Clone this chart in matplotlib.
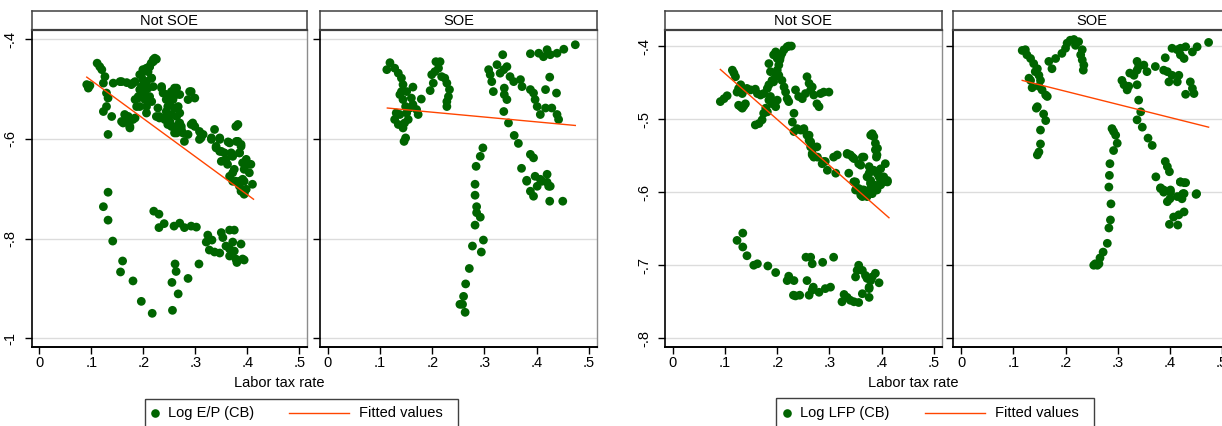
import matplotlib
matplotlib.use("Agg")
import matplotlib.pyplot as plt
import numpy as np
from matplotlib.patches import Rectangle

plt.rcParams['font.family'] = ['Liberation Sans', 'DejaVu Sans']

# ---------------- data ----------------
panel_titles = ["Not SOE", "SOE"]
xticks = [0, 0.1, 0.2, 0.3, 0.4, 0.5]
xtick_labels = ["0", ".1", ".2", ".3", ".4", ".5"]
ep_yticks = [-1, -0.8, -0.6, -0.4]
ep_ytick_labels = ["-1", "-.8", "-.6", "-.4"]
lfp_yticks = [-0.8, -0.7, -0.6, -0.5, -0.4]
lfp_ytick_labels = ["-.8", "-.7", "-.6", "-.5", "-.4"]
x_title = "Labor tax rate"
ep_series_label = "Log E/P (CB)"
lfp_series_label = "Log LFP (CB)"
fit_label = "Fitted values"

ep_notsoe = [
    (0.091,-0.491),(0.094,-0.498),(0.097,-0.493),
    (0.111,-0.448),(0.116,-0.455),(0.120,-0.461),(0.126,-0.475),
    (0.123,-0.488),(0.129,-0.508),(0.132,-0.518),(0.129,-0.535),(0.123,-0.545),(0.139,-0.555),(0.132,-0.591),(0.132,-0.707),
    (0.142,-0.488),(0.155,-0.485),(0.168,-0.487),(0.180,-0.488),
    (0.158,-0.565),(0.164,-0.551),(0.171,-0.555),(0.174,-0.575),(0.180,-0.561),
    (0.184,-0.521),(0.187,-0.535),(0.190,-0.515),(0.193,-0.501),(0.196,-0.495),(0.193,-0.471),(0.199,-0.461),(0.206,-0.458),
    (0.209,-0.465),(0.212,-0.455),(0.215,-0.448),(0.219,-0.441),(0.222,-0.438),(0.225,-0.440),
    (0.199,-0.481),(0.203,-0.508),(0.206,-0.521),(0.212,-0.515),(0.215,-0.478),(0.219,-0.495),(0.206,-0.548),
    (0.228,-0.538),(0.225,-0.555),(0.231,-0.558),(0.235,-0.498),(0.238,-0.508),(0.244,-0.521),(0.247,-0.535),(0.251,-0.515),
    (0.254,-0.505),(0.257,-0.521),(0.260,-0.498),(0.263,-0.511),(0.267,-0.535),(0.270,-0.548),(0.244,-0.555),(0.247,-0.571),
    (0.251,-0.565),(0.254,-0.575),(0.260,-0.588),(0.263,-0.578),(0.270,-0.568),(0.273,-0.575),(0.276,-0.588),(0.279,-0.605),(0.286,-0.591),
    (0.292,-0.505),(0.299,-0.518),(0.286,-0.521),(0.295,-0.568),(0.299,-0.575),(0.308,-0.585),(0.311,-0.598),(0.315,-0.591),
    (0.331,-0.598),(0.337,-0.581),(0.340,-0.615),(0.347,-0.598),(0.347,-0.625),(0.350,-0.645),(0.356,-0.628),(0.359,-0.641),
    (0.362,-0.651),(0.366,-0.608),(0.372,-0.635),(0.375,-0.661),(0.378,-0.575),(0.382,-0.571),(0.382,-0.605),(0.385,-0.628),
    (0.388,-0.615),(0.391,-0.648),(0.394,-0.661),(0.398,-0.641),(0.401,-0.651),(0.404,-0.668),(0.407,-0.651),(0.410,-0.691),
    (0.385,-0.685),(0.391,-0.681),(0.398,-0.701),(0.394,-0.708),(0.366,-0.675),(0.372,-0.668),(0.378,-0.685),
    (0.372,-0.685),(0.385,-0.695),(0.394,-0.685),(0.388,-0.705),(0.394,-0.711),
    (0.219,-0.445),(0.212,-0.455),(0.203,-0.461),(0.196,-0.471),(0.216,-0.478),(0.206,-0.485),(0.209,-0.498),(0.199,-0.505),
    (0.190,-0.518),(0.203,-0.521),(0.216,-0.525),(0.193,-0.535),(0.206,-0.535),(0.177,-0.491),(0.184,-0.485),(0.158,-0.485),
    (0.235,-0.495),(0.244,-0.511),(0.254,-0.518),(0.264,-0.498),(0.270,-0.511),(0.251,-0.531),(0.260,-0.538),(0.244,-0.545),
    (0.254,-0.551),(0.264,-0.555),(0.231,-0.555),(0.241,-0.561),(0.251,-0.571),(0.267,-0.571),(0.273,-0.581),(0.264,-0.588),
    (0.289,-0.505),(0.292,-0.571),(0.311,-0.591),(0.308,-0.601),(0.331,-0.601),(0.347,-0.601),(0.363,-0.606),(0.379,-0.605),
    (0.388,-0.611),(0.340,-0.618),(0.350,-0.625),(0.369,-0.628),(0.385,-0.628),(0.171,-0.568),(0.161,-0.568),(0.168,-0.555),
    (0.184,-0.558),(0.174,-0.578),
    (0.123,-0.736),(0.132,-0.763),(0.141,-0.805),(0.160,-0.845),(0.156,-0.867),(0.180,-0.885),(0.196,-0.926),(0.217,-0.950),
    (0.220,-0.745),(0.230,-0.751),(0.230,-0.778),(0.240,-0.770),(0.259,-0.775),(0.270,-0.769),(0.279,-0.778),(0.292,-0.775),
    (0.302,-0.777),(0.261,-0.851),(0.263,-0.866),(0.255,-0.888),(0.267,-0.911),(0.256,-0.944),(0.286,-0.880),(0.307,-0.851),
    (0.324,-0.793),(0.321,-0.807),(0.332,-0.803),(0.327,-0.823),(0.337,-0.827),(0.347,-0.829),(0.350,-0.788),(0.353,-0.798),
    (0.366,-0.783),(0.375,-0.783),(0.359,-0.815),(0.366,-0.821),(0.372,-0.807),(0.366,-0.835),(0.375,-0.825),(0.378,-0.841),
    (0.380,-0.848),(0.388,-0.811),(0.391,-0.841),(0.394,-0.843),
]

ep_soe = [
    (0.119,-0.447),(0.113,-0.461),(0.128,-0.458),(0.135,-0.468),(0.141,-0.478),(0.144,-0.491),(0.141,-0.505),(0.138,-0.511),
    (0.151,-0.505),(0.163,-0.496),(0.160,-0.518),(0.144,-0.521),(0.149,-0.535),(0.157,-0.538),(0.163,-0.531),(0.170,-0.541),
    (0.173,-0.551),(0.151,-0.548),(0.138,-0.551),(0.131,-0.548),(0.128,-0.561),(0.135,-0.571),(0.144,-0.578),(0.147,-0.568),
    (0.154,-0.561),(0.149,-0.598),(0.146,-0.605),(0.179,-0.520),(0.196,-0.503),(0.202,-0.488),(0.199,-0.471),(0.205,-0.465),
    (0.207,-0.445),(0.215,-0.445),(0.212,-0.458),(0.218,-0.475),(0.224,-0.478),(0.228,-0.488),(0.233,-0.501),(0.231,-0.515),
    (0.228,-0.525),(0.228,-0.535),
    (0.308,-0.461),(0.311,-0.471),(0.314,-0.485),(0.317,-0.505),(0.324,-0.451),(0.330,-0.468),(0.337,-0.461),(0.343,-0.455),
    (0.335,-0.431),(0.338,-0.498),(0.338,-0.511),(0.343,-0.521),(0.337,-0.545),(0.346,-0.568),(0.349,-0.475),(0.356,-0.485),
    (0.369,-0.481),(0.372,-0.495),(0.388,-0.501),(0.394,-0.508),(0.397,-0.521),(0.401,-0.535),(0.407,-0.551),(0.417,-0.538),
    (0.429,-0.538),(0.417,-0.501),(0.425,-0.476),(0.438,-0.508),(0.439,-0.551),(0.442,-0.561),(0.388,-0.429),(0.404,-0.428),
    (0.413,-0.435),(0.420,-0.421),(0.426,-0.431),(0.439,-0.428),(0.452,-0.420),(0.474,-0.411),
    (0.357,-0.593),(0.365,-0.609),(0.388,-0.631),(0.394,-0.638),(0.371,-0.659),(0.381,-0.683),(0.397,-0.675),(0.407,-0.681),
    (0.420,-0.671),(0.423,-0.695),(0.388,-0.705),
    (0.297,-0.618),(0.292,-0.635),(0.284,-0.655),(0.282,-0.691),(0.282,-0.713),
    (0.285,-0.736),(0.285,-0.748),(0.292,-0.757),(0.282,-0.773),(0.298,-0.803),(0.277,-0.815),(0.294,-0.827),(0.271,-0.860),
    (0.264,-0.891),(0.260,-0.916),(0.253,-0.932),(0.258,-0.932),(0.263,-0.948),
    (0.381,-0.685),(0.394,-0.715),(0.401,-0.695),(0.410,-0.685),(0.420,-0.687),(0.426,-0.695),(0.425,-0.725),(0.450,-0.725),
]

lfp_notsoe = [
    (0.091,-0.476),(0.098,-0.472),(0.104,-0.468),
    (0.114,-0.433),(0.117,-0.437),(0.120,-0.442),
    (0.123,-0.463),(0.126,-0.458),(0.130,-0.453),(0.133,-0.465),(0.136,-0.460),(0.142,-0.458),(0.149,-0.460),
    (0.126,-0.481),(0.130,-0.483),(0.133,-0.485),(0.136,-0.482),(0.139,-0.479),
    (0.158,-0.459),(0.162,-0.465),(0.168,-0.467),(0.174,-0.465),(0.181,-0.458),(0.184,-0.453),
    (0.158,-0.508),(0.165,-0.506),(0.171,-0.501),(0.174,-0.492),(0.178,-0.485),(0.181,-0.490),(0.184,-0.474),(0.187,-0.469),
    (0.190,-0.479),(0.197,-0.483),(0.200,-0.474),
    (0.184,-0.424),(0.187,-0.435),(0.190,-0.447),(0.193,-0.449),(0.197,-0.442),(0.200,-0.433),(0.203,-0.426),(0.205,-0.419),
    (0.206,-0.415),(0.209,-0.410),(0.213,-0.405),(0.219,-0.401),(0.222,-0.400),(0.227,-0.400),(0.193,-0.412),(0.197,-0.408),
    (0.200,-0.417),(0.203,-0.440),(0.209,-0.447),(0.213,-0.456),(0.216,-0.463),(0.219,-0.472),(0.222,-0.476),(0.232,-0.492),
    (0.235,-0.460),(0.241,-0.469),(0.248,-0.472),(0.254,-0.465),(0.257,-0.442),(0.261,-0.451),(0.264,-0.460),(0.267,-0.456),
    (0.270,-0.467),(0.276,-0.479),(0.280,-0.483),(0.283,-0.465),(0.289,-0.463),(0.299,-0.463),
    (0.229,-0.504),(0.232,-0.517),(0.238,-0.513),(0.245,-0.515),(0.251,-0.513),(0.257,-0.522),(0.261,-0.529),(0.264,-0.538),
    (0.267,-0.547),(0.270,-0.552),(0.276,-0.538),(0.286,-0.561),(0.292,-0.558),(0.296,-0.570),(0.308,-0.552),(0.312,-0.574),
    (0.315,-0.549),
    (0.334,-0.547),(0.340,-0.549),(0.347,-0.554),(0.356,-0.561),(0.366,-0.552),(0.337,-0.574),(0.347,-0.586),(0.356,-0.595),
    (0.363,-0.597),(0.369,-0.602),(0.376,-0.574),(0.382,-0.520),(0.385,-0.524),(0.388,-0.533),(0.391,-0.549),(0.388,-0.542),
    (0.385,-0.570),(0.391,-0.574),(0.398,-0.584),(0.404,-0.579),(0.407,-0.561),(0.411,-0.584),(0.372,-0.579),(0.379,-0.588),
    (0.385,-0.593),(0.391,-0.597),(0.382,-0.602),(0.376,-0.565),
    (0.347,-0.586),(0.350,-0.597),(0.360,-0.604),(0.366,-0.597),(0.372,-0.606),(0.385,-0.593),(0.395,-0.590),(0.411,-0.586),
    (0.379,-0.588),
    (0.251,-0.515),(0.261,-0.522),(0.264,-0.531),(0.270,-0.538),(0.267,-0.549),(0.277,-0.552),(0.289,-0.558),(0.334,-0.548),
    (0.344,-0.552),(0.363,-0.552),(0.350,-0.586),(0.353,-0.597),(0.363,-0.606),(0.372,-0.604),(0.379,-0.522),(0.392,-0.540),
    (0.390,-0.552),(0.398,-0.568),(0.395,-0.579),(0.379,-0.584),(0.385,-0.590),(0.398,-0.590),(0.379,-0.595),(0.369,-0.600),
    (0.404,-0.586),(0.360,-0.563),
    (0.123,-0.666),(0.134,-0.656),(0.134,-0.675),(0.142,-0.687),(0.155,-0.700),(0.162,-0.698),(0.182,-0.701),(0.197,-0.710),
    (0.219,-0.721),(0.222,-0.715),(0.232,-0.721),(0.231,-0.741),(0.235,-0.742),(0.243,-0.741),(0.257,-0.721),(0.261,-0.741),
    (0.269,-0.730),(0.267,-0.734),(0.280,-0.737),(0.292,-0.732),(0.302,-0.730),(0.255,-0.689),(0.264,-0.689),(0.267,-0.698),
    (0.287,-0.696),(0.308,-0.689),(0.324,-0.750),(0.328,-0.740),(0.334,-0.744),(0.340,-0.748),(0.347,-0.750),(0.356,-0.751),
    (0.363,-0.739),(0.376,-0.744),(0.350,-0.716),(0.353,-0.707),(0.356,-0.700),(0.363,-0.707),(0.369,-0.714),(0.372,-0.718),
    (0.376,-0.730),(0.379,-0.721),(0.382,-0.716),(0.388,-0.711),(0.395,-0.724),(0.376,-0.732),
]

lfp_soe = [
    (0.117,-0.406),(0.123,-0.405),(0.126,-0.412),(0.133,-0.417),(0.139,-0.424),(0.146,-0.431),(0.142,-0.435),(0.149,-0.440),
    (0.152,-0.447),(0.133,-0.447),(0.130,-0.444),(0.136,-0.457),(0.149,-0.455),(0.155,-0.460),(0.162,-0.467),(0.165,-0.469),
    (0.146,-0.483),(0.144,-0.485),(0.158,-0.493),(0.162,-0.502),(0.152,-0.515),(0.152,-0.534),(0.149,-0.545),(0.146,-0.549),
    (0.168,-0.421),(0.174,-0.431),(0.181,-0.417),(0.193,-0.410),(0.200,-0.403),(0.203,-0.396),(0.209,-0.392),(0.216,-0.391),
    (0.219,-0.399),(0.225,-0.394),(0.232,-0.405),(0.229,-0.412),(0.232,-0.419),(0.235,-0.426),(0.234,-0.433),
    (0.308,-0.447),(0.312,-0.453),(0.318,-0.460),(0.321,-0.455),(0.323,-0.437),(0.331,-0.440),(0.337,-0.433),(0.337,-0.421),
    (0.340,-0.428),(0.350,-0.426),(0.356,-0.435),(0.337,-0.453),(0.340,-0.474),(0.344,-0.490),(0.337,-0.501),(0.347,-0.511),
    (0.358,-0.526),(0.366,-0.536),(0.372,-0.428),(0.388,-0.433),(0.391,-0.416),(0.395,-0.435),(0.398,-0.449),(0.404,-0.440),
    (0.414,-0.449),(0.417,-0.440),(0.404,-0.403),(0.414,-0.405),(0.420,-0.412),(0.427,-0.417),(0.420,-0.403),(0.430,-0.401),
    (0.443,-0.408),(0.452,-0.401),(0.474,-0.395),(0.439,-0.449),(0.443,-0.458),(0.446,-0.465),(0.430,-0.466),
    (0.289,-0.513),(0.292,-0.517),(0.296,-0.522),(0.299,-0.533),(0.292,-0.543),(0.285,-0.561),(0.284,-0.577),(0.283,-0.593),
    (0.391,-0.558),(0.395,-0.565),(0.399,-0.572),(0.373,-0.579),(0.382,-0.595),(0.388,-0.600),(0.401,-0.597),(0.420,-0.586),
    (0.427,-0.587),(0.425,-0.602),(0.451,-0.602),(0.414,-0.606),
    (0.287,-0.616),(0.286,-0.638),(0.283,-0.649),(0.280,-0.670),(0.272,-0.682),(0.266,-0.690),(0.257,-0.698),(0.261,-0.700),
    (0.264,-0.698),(0.254,-0.700),
    (0.382,-0.594),(0.388,-0.597),(0.401,-0.600),(0.400,-0.609),(0.395,-0.613),(0.423,-0.604),(0.427,-0.602),(0.423,-0.609),
    (0.450,-0.603),(0.407,-0.634),(0.417,-0.631),(0.427,-0.627),(0.399,-0.644),(0.415,-0.645),(0.420,-0.586),(0.430,-0.587),
]

# fitted values (end points of the fitted lines)
ep_notsoe_fit_x = [0.091, 0.412]
ep_notsoe_fit_y = [-0.476, -0.721]
ep_soe_fit_x = [0.114, 0.474]
ep_soe_fit_y = [-0.538, -0.573]
lfp_notsoe_fit_x = [0.091, 0.414]
lfp_notsoe_fit_y = [-0.432, -0.635]
lfp_soe_fit_x = [0.117, 0.474]
lfp_soe_fit_y = [-0.447, -0.511]

# ---------------- styling ----------------
W, H = 1222, 426
DOT = '#006400'
FIT = '#FF4500'
GRID = '#dcdcdc'
FS = 10.5

fig = plt.figure(figsize=(W / 100, H / 100), dpi=100)
fig.patch.set_facecolor('white')

TOP, STRIP_TOP, BOTTOM = 30, 11, 346.7


def make_panel(left, right, title, pts, fx, fy, yticks, ylabels, ylim, show_ylabels):
    ax = fig.add_axes([left / W, 1 - BOTTOM / H, (right - left) / W, (BOTTOM - TOP) / H])
    arr = np.array(pts)
    ax.scatter(arr[:, 0], arr[:, 1], s=40, color=DOT, edgecolors='none', zorder=3)
    ax.plot(fx, fy, color=FIT, lw=1.0, zorder=4)
    ax.set_xlim(-0.015, 0.515)
    ax.set_ylim(*ylim)
    ax.set_xticks(xticks)
    ax.set_xticklabels(xtick_labels, fontsize=FS)
    ax.set_yticks(yticks)
    if show_ylabels:
        ax.set_yticklabels(ylabels, fontsize=FS, rotation=90, va='center')
    else:
        ax.set_yticklabels([])
    ax.tick_params(axis='x', length=5, width=1, pad=2, color='black')
    ax.tick_params(axis='y', length=5, width=1, pad=5, color='black')
    ax.grid(axis='y', color=GRID, lw=1.0, zorder=0)
    ax.set_axisbelow(True)
    ax.spines['top'].set_visible(False)
    ax.spines['right'].set_color('#8c8c8c')
    ax.spines['right'].set_linewidth(1.0)
    ax.spines['left'].set_color('black')
    ax.spines['left'].set_linewidth(1.2)
    ax.spines['bottom'].set_color('black')
    ax.spines['bottom'].set_linewidth(1.4)
    # strip
    sax = fig.add_axes([left / W, 1 - TOP / H, (right - left) / W, (TOP - STRIP_TOP) / H])
    sax.set_xticks([]); sax.set_yticks([])
    for sp in sax.spines.values():
        sp.set_color('#404040'); sp.set_linewidth(1.1)
    sax.spines['bottom'].set_linewidth(1.6)
    sax.text(0.5, 0.45, title, ha='center', va='center', fontsize=FS, transform=sax.transAxes)
    return ax


ep_ylim = (-1.017, -0.3814)
lfp_ylim = (-0.8115, -0.378)

make_panel(31.7, 307, panel_titles[0], ep_notsoe, ep_notsoe_fit_x, ep_notsoe_fit_y,
           ep_yticks, ep_ytick_labels, ep_ylim, True)
make_panel(320, 596.7, panel_titles[1], ep_soe, ep_soe_fit_x, ep_soe_fit_y,
           ep_yticks, ep_ytick_labels, ep_ylim, False)
make_panel(665, 941.7, panel_titles[0], lfp_notsoe, lfp_notsoe_fit_x, lfp_notsoe_fit_y,
           lfp_yticks, lfp_ytick_labels, lfp_ylim, True)
make_panel(953.3, 1230, panel_titles[1], lfp_soe, lfp_soe_fit_x, lfp_soe_fit_y,
           lfp_yticks, lfp_ytick_labels, lfp_ylim, False)

# overlay for titles and legends (pixel coordinates)
ov = fig.add_axes([0, 0, 1, 1], zorder=10)
ov.set_xlim(0, W); ov.set_ylim(H, 0); ov.axis('off')
ov.patch.set_alpha(0)

ov.text(279, 383, x_title, ha='center', va='center', fontsize=FS)
ov.text(913, 383, x_title, ha='center', va='center', fontsize=FS)


def legend(x0, x1, top, mx, tx, lx0, lx1, tx2, label):
    ov.add_patch(Rectangle((x0, top), x1 - x0, 40, fill=False, edgecolor='#404040', lw=1.0))
    ov.plot([mx], [413], marker='o', ms=6.2, color=DOT, mec='none', ls='none')
    ov.text(tx, 413, label, ha='left', va='center', fontsize=FS)
    ov.plot([lx0, lx1], [413, 413], color=FIT, lw=1.0)
    ov.text(tx2, 413, fit_label, ha='left', va='center', fontsize=FS)


legend(145, 458, 399.3, 155, 168, 289, 349, 359, ep_series_label)
legend(776, 1094, 398.3, 786.7, 800, 925, 985, 995, lfp_series_label)

fig.savefig('out.png', dpi=100, facecolor='white')
